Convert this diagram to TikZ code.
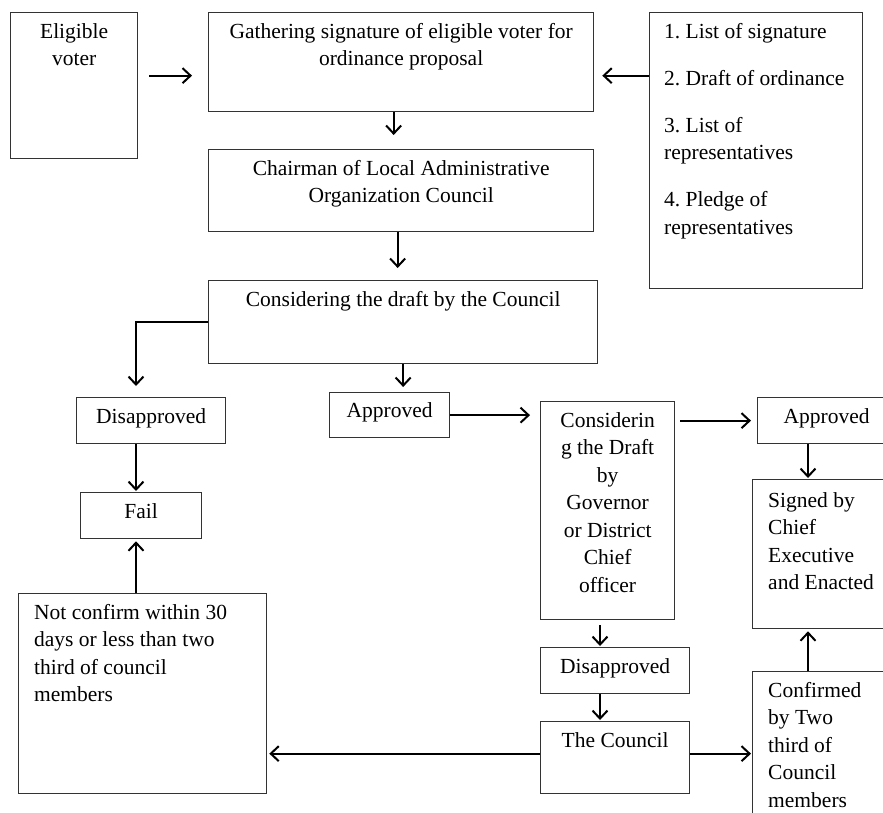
\documentclass[tikz,border=0pt]{standalone}
\usepackage{fontspec}
\setmainfont{Liberation Serif}
\usetikzlibrary{arrows.meta, positioning, calc}
\frenchspacing

\begin{document}
\begin{tikzpicture}[
        x=1pt, y=-1pt,
        box/.style={draw=black!80, line width=1.3pt, anchor=north west, inner sep=0pt},
        txt/.style={align=center, inner sep=0pt, font=\fontsize{21.5}{27.5}\selectfont},
        ltxt/.style={txt, align=left},
        arrow/.style={-{Straight Barb[length=8pt, width=15pt]}, line width=2pt},
    ]
        \useasboundingbox (0,0) rectangle (883,812);
        \clip (0,0) rectangle (883,812);

        \node[box, minimum width=127pt, minimum height=146pt] (elig) at (10,12) {};
        \node[box, minimum width=385pt, minimum height=99pt] (gather) at (208,12) {};
        \node[box, minimum width=213pt, minimum height=276pt] (list) at (649,12) {};
        \node[box, minimum width=385pt, minimum height=82pt] (chair) at (208,149) {};
        \node[box, minimum width=389pt, minimum height=83pt] (draft) at (208,280) {};
        \node[box, minimum width=149pt, minimum height=46pt] (disL) at (76,397) {};
        \node[box, minimum width=121pt, minimum height=46pt] (fail) at (80,492) {};
        \node[box, minimum width=248pt, minimum height=200pt] (notc) at (18,593) {};
        \node[box, minimum width=120pt, minimum height=45pt] (appM) at (329,392) {};
        \node[box, minimum width=134pt, minimum height=218pt] (gov) at (540,401) {};
        \node[box, minimum width=149pt, minimum height=46pt] (disB) at (540,647) {};
        \node[box, minimum width=149pt, minimum height=72pt] (council) at (540,721) {};
        \node[box, minimum width=138pt, minimum height=46pt] (appR) at (757,397) {};
        \node[box, minimum width=143pt, minimum height=149pt] (sign) at (752,479) {};
        \node[box, minimum width=143pt, minimum height=160pt] (conf) at (752,671) {};

        \node[txt, below=11pt of elig.north] (eligT) {Eligible\\voter};
        \node[txt, below=11pt of gather.north] (gatherT) {Gathering signature of eligible voter for\\ordinance proposal};
        \node[ltxt, below right=11pt and 15pt of list.north west] (listT) {1. List of signature\\[19.5pt]2. Draft of ordinance\\[19.5pt]3. List of\\representatives\\[19.5pt]4. Pledge of\\representatives};
        \node[txt, below=11pt of chair.north] (chairT) {Chairman of Local Administrative\\Organization Council};
        \node[txt, below=11pt of draft.north] (draftT) {Considering the draft by the Council};
        \node[txt, below=11pt of disL.north] (disLT) {Disapproved};
        \node[txt, below=11pt of fail.north] (failT) {Fail};
        \node[ltxt, below right=11pt and 16pt of notc.north west] (notcT) {Not confirm within 30\\days or less than two\\third of council\\members};
        \node[txt, below=10pt of appM.north] (appMT) {Approved};
        \node[txt, below=11pt of gov.north] (govT) {Considerin\\g the Draft\\by\\Governor\\or District\\Chief\\officer};
        \node[txt, below=11pt of disB.north] (disBT) {Disapproved};
        \node[txt, below=11pt of council.north] (councilT) {The Council};
        \node[txt, below=11pt of appR.north] (appRT) {Approved};
        \node[ltxt, below right=13pt and 16pt of sign.north west] (signT) {Signed by\\Chief\\Executive\\and Enacted};
        \node[ltxt, below right=11pt and 16pt of conf.north west] (confT) {Confirmed\\by Two\\third of\\Council\\members};

        \coordinate (lc) at (136,0);
        \coordinate (mc) at (600,0);
        \coordinate (rc) at (808,0);

        \draw[arrow, shorten <=11pt, shorten >=16pt] ([yshift=-13.5pt]gather.west -| elig.east) -- ([yshift=-13.5pt]gather.west);
        \draw[arrow, shorten >=8pt] ([yshift=-13.5pt]gather.east -| list.west) -- ([yshift=-13.5pt]gather.east);
        \draw[arrow, shorten >=14pt] ([xshift=-7.5pt]gather.south) -- ([xshift=-7.5pt]gather.south |- chair.north);
        \draw[arrow, shorten >=12pt] ([xshift=-3.5pt]chair.south) -- ([xshift=-3.5pt]chair.south |- draft.north);
        \draw[arrow, shorten >=11pt] (draft.west) -| (lc |- disL.north);
        \draw[arrow, shorten >=5pt] (draft.south) -- (draft.south |- appM.north);
        \draw[arrow, shorten >=1pt] (lc |- disL.south) -- (lc |- fail.north);
        \draw[arrow, shorten >=2pt] (lc |- notc.north) -- (lc |- fail.south);
        \draw[arrow, shorten >=10pt] (appM.east) -- (appM.east -| gov.west);
        \draw[arrow, shorten <=5pt, shorten >=6pt] (appR.west -| gov.east) -- (appR.west);
        \draw[arrow, shorten >=1pt] (rc |- appR.south) -- (rc |- sign.north);
        \draw[arrow, shorten <=5pt, shorten >=1pt] (mc |- gov.south) -- (mc |- disB.north);
        \draw[arrow, shorten >=1pt] (mc |- disB.south) -- (mc |- council.north);
        \draw[arrow, shorten >=2pt] ([yshift=4pt]council.west) -- ([yshift=4pt]council.west -| notc.east);
        \draw[arrow, shorten >=1pt] ([yshift=4pt]council.east) -- ([yshift=4pt]council.east -| conf.west);
        \draw[arrow, shorten >=2pt] (rc |- conf.north) -- (rc |- sign.south);
    \end{tikzpicture}
\end{document}
